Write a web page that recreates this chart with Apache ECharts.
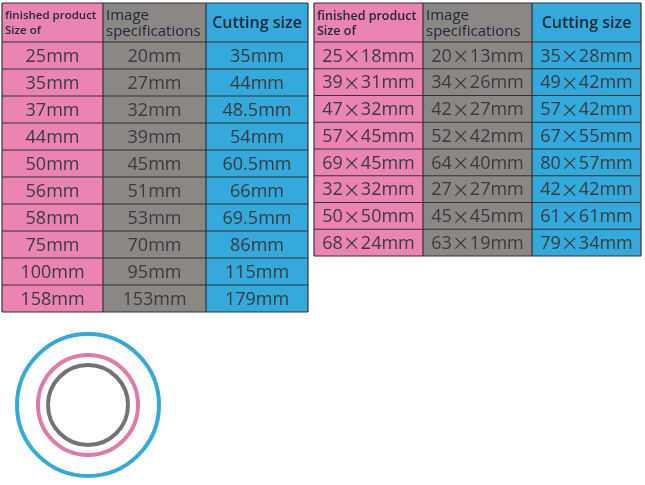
<!DOCTYPE html>
<html><head><meta charset="utf-8">
<script src="https://cdn.jsdelivr.net/npm/echarts@6/dist/echarts.min.js"></script>
<style>html,body{margin:0;background:#fff}#c{width:645px;height:485px}</style>
</head><body><div id="c"></div>
<script>
const headers = ["finished product\nSize of", "Image\nspecifications", "Cutting size"];
const roundFinished = ["25mm","35mm","37mm","44mm","50mm","56mm","58mm","75mm","100mm","158mm"];
const roundImage = ["20mm","27mm","32mm","39mm","45mm","51mm","53mm","70mm","95mm","153mm"];
const roundCutting = ["35mm","44mm","48.5mm","54mm","60.5mm","66mm","69.5mm","86mm","115mm","179mm"];
const rectFinished = ["25×18mm","39×31mm","47×32mm","57×45mm","69×45mm","32×32mm","50×50mm","68×24mm"];
const rectImage = ["20×13mm","34×26mm","42×27mm","52×42mm","64×40mm","27×27mm","45×45mm","63×19mm"];
const rectCutting = ["35×28mm","49×42mm","57×42mm","67×55mm","80×57mm","42×42mm","61×61mm","79×34mm"];

const colColors = ["#eb84b3", "#8b8784", "#33a9dc"];
const font = "Open Sans, Noto Sans, sans-serif";
const textColor = "#3a3a40";

function richValue(v) {
  return v.split("×").map(p => "{n|" + p + "}").join("{x|×}");
}

function table(x0, widths, y0, headH, rowH, cols, headSize) {
  const els = [];
  let x = x0;
  cols.forEach((col, ci) => {
    const w = widths[ci];
    els.push({ type: "rect", shape: { x, y: y0, width: w, height: headH + rowH * col.length },
      style: { fill: colColors[ci] } });
    const big = ci === 2;
    els.push({ type: "text", x: big ? x + w / 2 : x + 3, y: y0 + headH / 2 + 1,
      style: { text: headers[ci], fill: "#22283a",
        font: (big ? "600 16px " : (ci === 1 ? "15px " : "600 " + headSize + "px ")) + font,
        align: big ? "center" : "left", verticalAlign: "middle", lineHeight: ci === 1 ? 16 : 15 } });
    col.forEach((v, ri) => {
      const y = y0 + headH + ri * rowH;
      els.push({ type: "text", x: x + w / 2, y: y + rowH / 2 + 1,
        style: { text: richValue(v), align: "center", verticalAlign: "middle",
          rich: {
            n: { fill: textColor, font: "18px " + font },
            x: { fill: textColor, font: "18px 'Noto Sans CJK SC', sans-serif" }
          } } });
    });
    x += w;
  });
  const total = widths.reduce((a, b) => a + b, 0);
  const bottom = y0 + headH + rowH * cols[0].length;
  const line = (x1, y1, x2, y2) => ({ type: "line", shape: { x1, y1, x2, y2 }, style: { stroke: "#333", lineWidth: 1.2 } });
  els.push(line(x0, y0, x0 + total, y0));
  for (let r = 0; r <= cols[0].length; r++) {
    const y = y0 + headH + r * rowH;
    els.push(line(x0, y, x0 + total, y));
  }
  let xx = x0;
  for (let i = 0; i <= widths.length; i++) {
    els.push(line(xx, y0, xx, bottom));
    xx += widths[i] || 0;
  }
  return els;
}

const rings = [
  { r: 71, color: "#33a9dc" },
  { r: 50, color: "#e07aa8" },
  { r: 40, color: "#737373" }
];

const chart = echarts.init(document.getElementById("c"));
chart.setOption({
  graphic: [
    ...table(2, [101, 103, 102], 3, 39, 27, [roundFinished, roundImage, roundCutting], 11.5),
    ...table(314, [109, 109, 109], 3, 39, 26.75, [rectFinished, rectImage, rectCutting], 12.5),
    ...rings.map(g => ({ type: "circle", shape: { cx: 88, cy: 405, r: g.r },
      style: { fill: "none", stroke: g.color, lineWidth: 4 } }))
  ]
});
</script></body></html>
